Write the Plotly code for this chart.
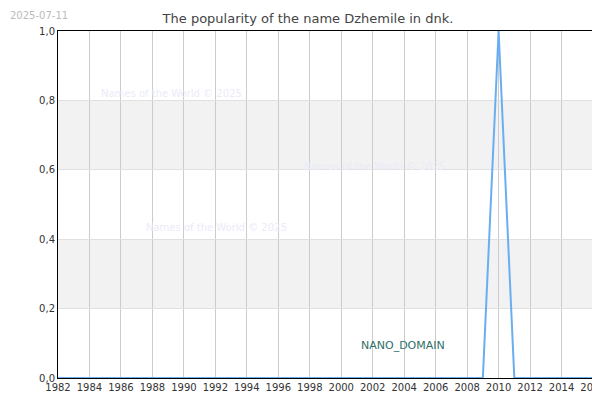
import plotly.graph_objects as go

years = list(range(1982, 2017))
values = [1.0 if y == 2010 else 0.0 for y in years]
ytick_vals = [0, 0.2, 0.4, 0.6, 0.8, 1.0]
ytick_text = ["0,0", "0,2", "0,4", "0,6", "0,8", "1,0"]
bands = [(0.2, 0.4), (0.6, 0.8)]

fig = go.Figure()
fig.add_trace(go.Scatter(x=years, y=values, mode="lines",
                         line=dict(color="#6aaef0", width=2), hoverinfo="skip"))
for lo, hi in bands:
    fig.add_hrect(y0=lo, y1=hi, fillcolor="#f2f2f2", line_width=0, layer="below")

font = "DejaVu Sans"
fig.update_layout(
    width=600, height=400, margin=dict(l=50, r=15, t=23, b=30, autoexpand=False),
    paper_bgcolor="white", plot_bgcolor="white", showlegend=False,
    font=dict(family=font, size=10, color="#333"),
    title=dict(text="The popularity of the name Dzhemile in dnk.", x=0.5, y=0.985,
               xanchor="center", yanchor="top", automargin=False,
               font=dict(size=13, color="#444")),
    xaxis=dict(range=[1982, 2016], tickvals=list(range(1982, 2017, 2)),
               showgrid=True, gridcolor="#cccccc", showline=True, linecolor="black",
               mirror=True, ticks="", zeroline=False, automargin=False,
               tickfont=dict(size=10)),
    yaxis=dict(range=[0, 1], tickvals=ytick_vals, ticktext=ytick_text,
               showgrid=True, gridcolor="#e0e0e0", showline=True, linecolor="black",
               mirror=True, ticks="", zeroline=False, automargin=False,
               tickfont=dict(size=10)),
)
fig.add_annotation(text="2025-07-11", x=0, y=1, xref="paper", yref="paper",
                   xshift=-50, yshift=23, showarrow=False, xanchor="left", yanchor="top",
                   font=dict(size=10, color="#bbbbbb"))
for tx, ty in [(1989.2, 0.82), (2002.1, 0.61), (1992.1, 0.435)]:
    fig.add_annotation(text="Names of the World © 2025", x=tx, y=ty, showarrow=False,
                       font=dict(size=10, color="#ebebf8"))
fig.add_annotation(text="NANO_DOMAIN", x=2003.9, y=0.095, showarrow=False,
                   font=dict(size=11, color="#2f6f6a"))
fig.write_html("out.html")
